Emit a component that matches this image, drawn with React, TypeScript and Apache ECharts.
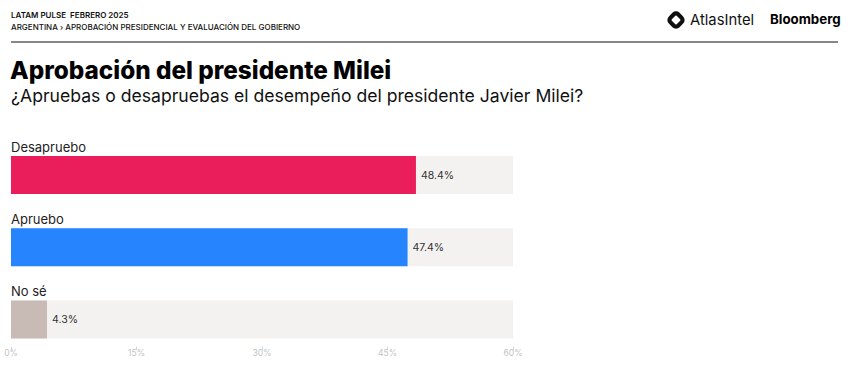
import React, { useEffect, useRef } from "react";
import * as echarts from "echarts";

const categories = ["Desapruebo", "Apruebo", "No sé"];
const values = [48.4, 47.4, 4.3];
const barColors = ["#E91E5A", "#2684FF", "#C8BAB4"];
const xTicks = [0, 15, 30, 45, 60];

const headerLine1 = "LATAM PULSE  FEBRERO 2025";
const headerLine2 = "ARGENTINA › APROBACIÓN PRESIDENCIAL Y EVALUACIÓN DEL GOBIERNO";
const titleText = "Aprobación del presidente Milei";
const subtitleText = "¿Apruebas o desapruebas el desempeño del presidente Javier Milei?";

const FONT = "Inter, 'Noto Sans', sans-serif";

export default function App() {
  const ref = useRef<HTMLDivElement>(null);
  useEffect(() => {
    if (!ref.current) return;
    const chart = echarts.init(ref.current, null, { renderer: "svg" });
    chart.setOption({
      animation: false,
      backgroundColor: "#ffffff",
      textStyle: { fontFamily: FONT },
      grid: { left: 11, right: 342, top: 139, bottom: 27.5, containLabel: false },
      xAxis: {
        type: "value",
        min: xTicks[0],
        max: xTicks[xTicks.length - 1],
        interval: 15,
        offset: -9,
        splitLine: { show: false },
        axisLine: { show: false },
        axisTick: { show: true, length: 4, lineStyle: { color: "#d8d8d8" } },
        axisLabel: {
          margin: 2,
          fontSize: 8.5,
          color: "#c4c4c4",
          fontFamily: FONT,
          formatter: (v: number) => `${v}%`,
        },
      },
      yAxis: {
        type: "category",
        data: categories,
        inverse: true,
        axisLine: { show: false },
        axisTick: { show: false },
        axisLabel: {
          inside: true,
          margin: 0,
          align: "left",
          verticalAlign: "bottom",
          padding: [0, 0, 22, 0],
          fontSize: 13,
          color: "#222",
          fontFamily: FONT,
        },
        z: 10,
      },
      series: [
        {
          type: "bar",
          barWidth: 38,
          data: values.map((v, i) => ({ value: v, itemStyle: { color: barColors[i] } })),
          showBackground: true,
          backgroundStyle: { color: "#F3F2F0" },
          label: {
            show: true,
            position: "right",
            distance: 5,
            fontSize: 10.5,
            color: "#333",
            fontFamily: FONT,
            formatter: (p: any) => `${p.value.toFixed(1)}%`,
          },
        },
      ],
      graphic: [
        { type: "text", left: 11, top: 11, style: { text: headerLine1, fontSize: 8, fontWeight: 600, fill: "#111", fontFamily: FONT } },
        { type: "text", left: 11, top: 23, style: { text: headerLine2, fontSize: 8, fontWeight: 500, fill: "#111", fontFamily: FONT } },
        { type: "line", shape: { x1: 11, y1: 42, x2: 838, y2: 42 }, style: { stroke: "#111", lineWidth: 1 } },
        { type: "text", left: 10, top: 58, style: { text: titleText, fontSize: 24.3, fontWeight: 800, fill: "#000", fontFamily: FONT } },
        { type: "text", left: 11, top: 86, style: { text: subtitleText, fontSize: 17.6, fontWeight: 400, fill: "#111", fontFamily: FONT } },
        {
          type: "rect",
          x: 676,
          y: 20,
          shape: { x: -5.5, y: -5.5, width: 11, height: 11, r: 3 },
          rotation: Math.PI / 4,
          style: { fill: "none", stroke: "#111", lineWidth: 4.2 },
        },
        { type: "text", left: 690, top: 12, style: { text: "AtlasIntel", fontSize: 14.8, fontWeight: 400, fill: "#111", fontFamily: FONT } },
        { type: "text", left: 770, top: 12, style: { text: "Bloomberg", fontSize: 13.3, fontWeight: 700, fill: "#000", fontFamily: FONT } },
      ],
    });
    return () => chart.dispose();
  }, []);
  return <div ref={ref} style={{ width: 855, height: 383, position: "absolute", left: 0, top: 0 }} />;
}
